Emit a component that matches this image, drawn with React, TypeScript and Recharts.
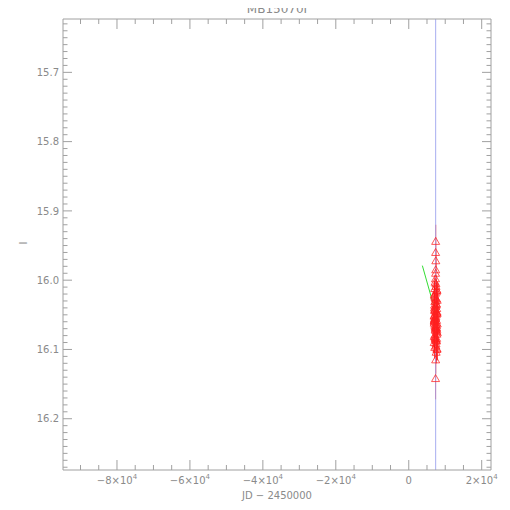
import React from 'react';
import { ScatterChart, Scatter, XAxis, YAxis, ErrorBar, ReferenceLine } from 'recharts';

// ---- data ----
const obsJD = [6960, 7010, 7420, 7130, 7700, 7250, 7540, 7350, 7080, 7610, 7190, 7780, 7350, 7040, 7480, 7660, 7220, 7400, 7120, 7560, 7330, 7390, 7370, 7380, 7410, 7360, 7450, 7290, 7600, 7170, 7740, 7000, 7520, 7270, 7830, 7100, 7380, 7640, 7200, 7500, 7060, 7720, 7320, 7460,
  7150, 7680, 6990, 7570, 7240, 7810, 7090, 7430, 7630, 7020, 7340, 7750, 7180, 7490, 7280, 7590, 6970, 7440, 7210, 7670, 7110, 7530, 7310, 7760, 7050, 7470, 7230, 7690, 7140, 7550, 7260, 7800, 6980, 7510, 7160, 7620, 7070, 7580, 7360, 7710];
const obsMag = [16.062, 16.081, 16.045, 16.097, 16.071, 16.054, 16.088, 16.142, 16.036, 16.066, 16.079, 16.048, 16.030, 16.058, 16.092, 16.041, 16.025, 16.069, 16.012, 16.034, 15.998, 15.985, 15.960, 15.944, 15.972, 15.990, 16.005, 16.019, 16.027, 16.043, 16.015, 16.051, 16.064, 16.038, 16.076, 16.057, 16.115, 16.084, 16.049, 16.073, 16.060, 16.100, 16.068, 16.086,
  16.031, 16.074, 16.052, 16.017, 16.085, 16.063, 16.040, 16.095, 16.058, 16.021, 16.070, 16.046, 16.082, 16.009, 16.067, 16.035, 16.090, 16.053, 16.003, 16.078, 16.044, 16.061, 16.027, 16.099, 16.056, 16.037, 16.072, 16.014, 16.065, 16.050, 16.083, 16.029, 16.059, 16.104, 16.042, 16.069, 16.023, 16.087, 16.055, 16.047];
const obsErr = [0.012, 0.015, 0.011, 0.016, 0.013, 0.010, 0.014, 0.030, 0.012, 0.011, 0.013, 0.010, 0.012, 0.011, 0.015, 0.012, 0.010, 0.013, 0.011, 0.012, 0.014, 0.016, 0.022, 0.024, 0.015, 0.013, 0.012, 0.011, 0.010, 0.012, 0.011, 0.013, 0.012, 0.010, 0.014, 0.012, 0.020, 0.015, 0.011, 0.013, 0.012, 0.016, 0.011, 0.014,
  0.011, 0.013, 0.012, 0.010, 0.014, 0.012, 0.011, 0.015, 0.012, 0.010, 0.013, 0.011, 0.014, 0.010, 0.012, 0.011, 0.015, 0.012, 0.010, 0.013, 0.011, 0.012, 0.010, 0.016, 0.012, 0.011, 0.013, 0.010, 0.012, 0.011, 0.014, 0.010, 0.012, 0.016, 0.011, 0.013, 0.010, 0.014, 0.012, 0.011];
const modelJD = [3730, 7380];
const modelMag = [15.979, 16.047];
const T0 = 7380;

const xDomain = [-94800, 22550];
const yDomain = [15.623, 16.274];
const xTicks = [-90000, -85000, -80000, -75000, -70000, -65000, -60000, -55000, -50000, -45000, -40000, -35000, -30000, -25000, -20000, -15000, -10000, -5000, 0, 5000, 10000, 15000, 20000];
const xMajor = [-80000, -60000, -40000, -20000, 0, 20000];
const yTicks = [15.63, 15.64, 15.65, 15.66, 15.67, 15.68, 15.69, 15.7, 15.71, 15.72, 15.73, 15.74, 15.75, 15.76, 15.77, 15.78, 15.79, 15.8, 15.81, 15.82, 15.83, 15.84, 15.85, 15.86, 15.87, 15.88, 15.89, 15.9, 15.91, 15.92, 15.93, 15.94, 15.95, 15.96, 15.97, 15.98, 15.99, 16.0, 16.01, 16.02, 16.03, 16.04, 16.05, 16.06, 16.07, 16.08, 16.09, 16.1, 16.11, 16.12, 16.13, 16.14, 16.15, 16.16, 16.17, 16.18, 16.19, 16.2, 16.21, 16.22, 16.23, 16.24, 16.25, 16.26, 16.27];
const yMajor = [15.7, 15.8, 15.9, 16.0, 16.1, 16.2];
const TITLE = 'MB15070I';

const obsData = obsJD.map((x, i) => ({ x, y: obsMag[i], err: obsErr[i] }));
const modelData = modelJD.map((x, i) => ({ x, y: modelMag[i] }));

// ---- style ----
const AX = '#a0a0a0';
const TXT = '#8a8a8a';
const FONT = 'DejaVu Sans';
const isMajorX = (v: number) => xMajor.includes(v);
const isMajorY = (v: number) => yMajor.some((m) => Math.abs(m - v) < 1e-6);

const fmtX = (v: number) => {
  if (v === 0) return <tspan>0</tspan>;
  const s = (v < 0 ? '\u2212' : '') + Math.abs(v) / 10000 + '\u00d710';
  return (
    <>
      <tspan>{s}</tspan>
      <tspan dy={-5} fontSize={7}>4</tspan>
    </>
  );
};

const BottomTick = (p: any) => {
  const { x, y, payload } = p;
  const major = isMajorX(payload.value);
  return (
    <g>
      <line x1={x} x2={x} y1={y} y2={y - (major ? 10 : 5)} stroke={AX} />
      {major && (
        <text x={x} y={y + 14} textAnchor="middle" fill={TXT} fontSize={10} fontFamily={FONT}>
          {fmtX(payload.value)}
        </text>
      )}
    </g>
  );
};
const TopTick = (p: any) => {
  const { x, y, payload } = p;
  const major = isMajorX(payload.value);
  return <line x1={x} x2={x} y1={y} y2={y + (major ? 10 : 5)} stroke={AX} />;
};
const LeftTick = (p: any) => {
  const { x, y, payload } = p;
  const major = isMajorY(payload.value);
  return (
    <g>
      <line x1={x} x2={x + (major ? 9 : 4.5)} y1={y} y2={y} stroke={AX} />
      {major && (
        <text x={x - 4} y={y + 3.6} textAnchor="end" fill={TXT} fontSize={10} fontFamily={FONT}>
          {payload.value.toFixed(1)}
        </text>
      )}
    </g>
  );
};
const RightTick = (p: any) => {
  const { x, y, payload } = p;
  const major = isMajorY(payload.value);
  return <line x1={x} x2={x - (major ? 9 : 4.5)} y1={y} y2={y} stroke={AX} />;
};

const TitleLabel = (p: any) => {
  const vb = p.viewBox || { x: 63, width: 428 };
  return (
    <text x={vb.x + vb.width / 2} y={13} textAnchor="middle" fill={TXT} fontSize={12} fontFamily={FONT}>
      {TITLE}
    </text>
  );
};

const Triangle = (p: any) => {
  const { cx, cy } = p;
  if (cx == null || cy == null) return <g />;
  return (
    <path
      d={`M${cx - 4},${cy + 3} L${cx + 4},${cy + 3} L${cx},${cy - 4} Z`}
      fill="none"
      stroke="#ff2020"
      strokeOpacity={0.75}
    />
  );
};
const NoDot = () => <g />;

export default function App() {
  return (
    <div style={{ margin: '-8px 0 0 -8px', width: 510, height: 510 }}>
      <ScatterChart width={510} height={510} margin={{ top: 0, right: 0, bottom: 0, left: 0 }}>
        <XAxis
          xAxisId="b"
          type="number"
          dataKey="x"
          orientation="bottom"
          domain={xDomain}
          allowDataOverflow
          ticks={xTicks}
          interval={0}
          tick={<BottomTick />}
          tickLine={false}
          tickSize={0}
          tickMargin={0}
          axisLine={{ stroke: AX }}
          height={40}
          label={{ value: 'JD \u2212 2450000', position: 'insideBottom', offset: 11, fill: TXT, fontSize: 10, fontFamily: FONT }}
        />
        <XAxis
          xAxisId="t"
          type="number"
          dataKey="x"
          orientation="top"
          domain={xDomain}
          allowDataOverflow
          ticks={xTicks}
          interval={0}
          tick={<TopTick />}
          tickLine={false}
          tickSize={0}
          tickMargin={0}
          axisLine={{ stroke: AX }}
          height={19}
          label={{ value: TITLE, position: 'insideTop', content: <TitleLabel /> }}
        />
        <YAxis
          yAxisId="l"
          type="number"
          dataKey="y"
          orientation="left"
          reversed
          domain={yDomain}
          allowDataOverflow
          ticks={yTicks}
          interval={0}
          tick={<LeftTick />}
          tickLine={false}
          tickSize={0}
          tickMargin={0}
          axisLine={{ stroke: AX }}
          width={63}
          label={{ value: 'I', angle: -90, position: 'insideLeft', offset: 23.5, fill: TXT, fontSize: 10, fontFamily: FONT }}
        />
        <YAxis
          yAxisId="r"
          type="number"
          dataKey="y"
          orientation="right"
          reversed
          domain={yDomain}
          allowDataOverflow
          ticks={yTicks}
          interval={0}
          tick={<RightTick />}
          tickLine={false}
          tickSize={0}
          tickMargin={0}
          axisLine={{ stroke: AX }}
          width={19}
        />
        <Scatter
          xAxisId="b"
          yAxisId="l"
          data={modelData}
          line={{ stroke: '#33dd33', strokeWidth: 1 }}
          shape={<NoDot />}
          isAnimationActive={false}
        />
        <Scatter xAxisId="b" yAxisId="l" data={obsData} shape={<Triangle />} isAnimationActive={false}>
          <ErrorBar dataKey="err" direction="y" width={0} stroke="#ff0000" strokeWidth={1} />
        </Scatter>
        <ReferenceLine xAxisId="b" yAxisId="l" x={T0} stroke="#a8aef0" strokeWidth={1} />
      </ScatterChart>
    </div>
  );
}
